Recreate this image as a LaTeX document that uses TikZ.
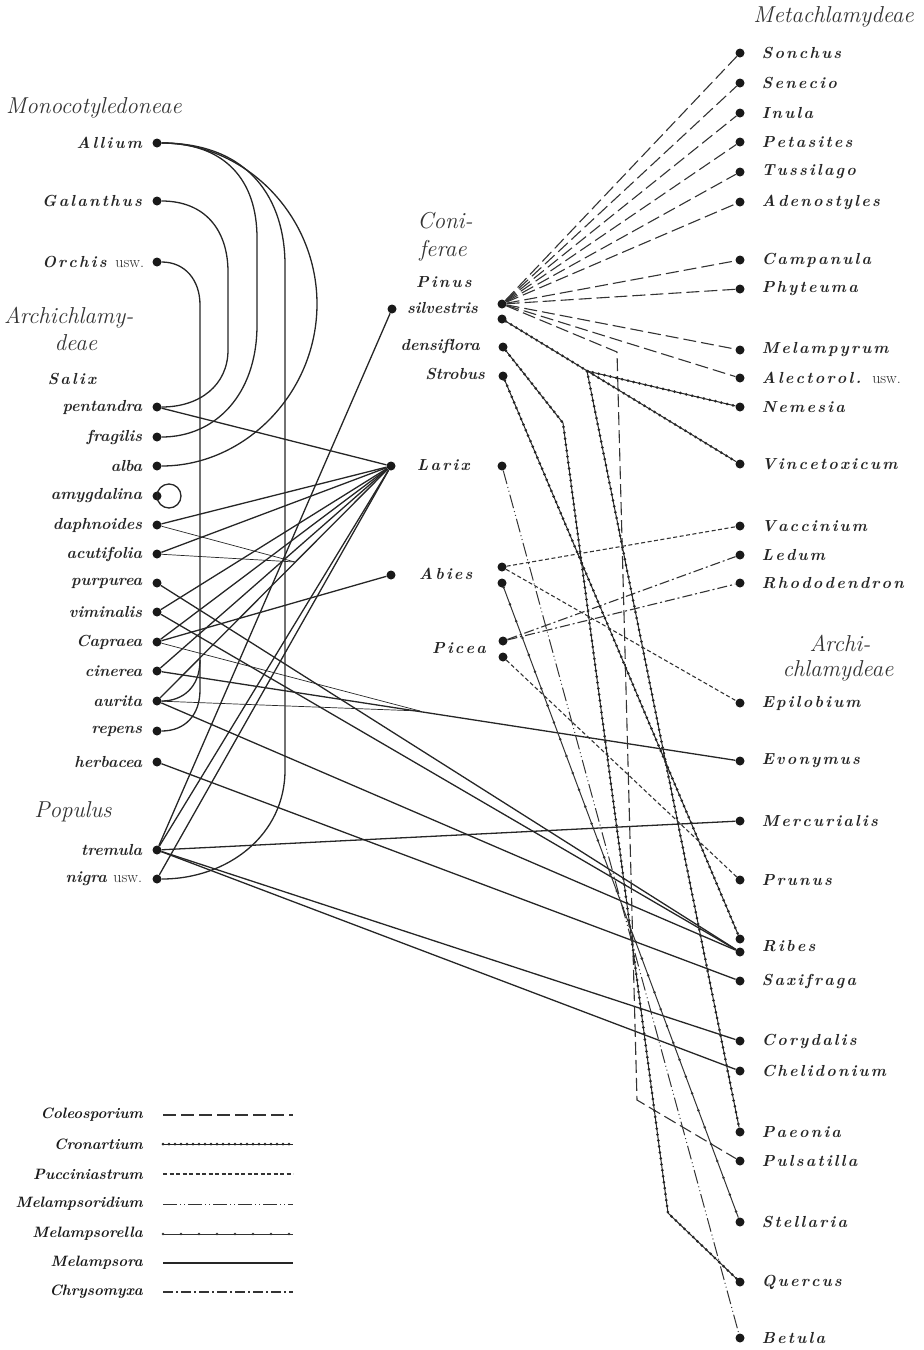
\documentclass[tikz,border=0pt]{standalone}
\usetikzlibrary{positioning}

\makeatletter
\newcommand\gsp[1]{\expandafter\gsp@#1\@nil}
\def\gsp@#1{\ifx#1\@nil\else#1\kern0.14em\relax\expandafter\gsp@\fi}
\makeatother
\newcommand\usw{{\mdseries\upshape usw.}}

\tikzset{
  hostdot/.style={circle,fill=black!90,inner sep=0pt,minimum size=9pt},
  lab/.style={inner sep=0pt,text=black!85,font=\fontsize{16}{18}\selectfont\bfseries\itshape},
  spec/.style={inner sep=0pt,text=black!85,font=\fontsize{16}{18}\selectfont\bfseries\itshape},
  head/.style={inner sep=0pt,text=black!80,font=\fontsize{23}{26}\selectfont\itshape},
  leglab/.style={inner sep=0pt,text=black!90,font=\fontsize{15}{17}\selectfont\bfseries\itshape},
  melampsora/.style={black!85,line width=1.3pt},
  coleosporium/.style={black!80,line width=1.1pt,dash pattern=on 13pt off 5pt},
  cronartium/.style={black!85,line width=1pt,postaction={draw,line width=3pt,line cap=round,dash pattern=on 0pt off 6pt}},
  pucciniastrum/.style={black!80,line width=1.1pt,dash pattern=on 4pt off 2.5pt},
  melampsoridium/.style={black!80,line width=1pt,dash pattern=on 14pt off 3pt on 1pt off 3pt on 1pt off 3pt},
  melampsorella/.style={black!80,line width=1pt,postaction={draw,line width=2.8pt,line cap=round,dash pattern=on 0pt off 18pt}},
  chrysomyxa/.style={black!80,line width=1.1pt,dash pattern=on 10pt off 3pt on 2pt off 3pt},
}

\begin{document}
\begin{tikzpicture}[x=1pt,y=-1pt]
   \useasboundingbox (0,0) rectangle (924,1350);

   \node[head,anchor=west] (monocot) at (6,108) {Monocotyledoneae};
   \foreach \n/\y/\t in {allium/143/Allium,galanthus/201/Galanthus} {
      \node[hostdot] (\n) at (157,\y) {};
      \node[lab,left=8pt of \n] (\n-lab) {\gsp{\t}};
   }
   \node[hostdot] (orchis) at (157,262) {};
   \node[lab,left=8pt of orchis] (orchis-lab) {\gsp{Orchis} \usw};
   \node[head,anchor=west] (archi) at (4,318) {Archichlamy-};
   \node[head] (deae) at (76,343) {deae};
   \node[lab] (salix) at (73,379) {\gsp{Salix}};
   \foreach \n/\y/\t in {pentandra/407/pentandra,fragilis/437/fragilis,alba/466/alba,
      amygdalina/496/amygdalina,daphnoides/525/daphnoides,acutifolia/554/acutifolia,
      purpurea/583/purpurea,viminalis/612/viminalis,capraea/642/Capraea,cinerea/671/cinerea,
      aurita/701/aurita,repens/731/repens,herbacea/762/herbacea,tremula/850/tremula} {
      \node[hostdot] (\n) at (157,\y) {};
      \node[spec,left=10pt of \n] (\n-lab) {\t};
   }
   \node[head] (populus) at (73,812) {Populus};
   \node[hostdot] (nigra) at (157,879) {};
   \node[spec,left=10pt of nigra] (nigra-lab) {nigra \usw};

   \node[head] (coni) at (445,221) {Coni-};
   \node[head] (ferae) at (443,251) {ferae};
   \node[lab] (pinus) at (445,282) {\gsp{Pinus}};
   \foreach \n/\x/\y in {pinusl/392/309,pinusa/502/304,pinusb/502/319,densiflora/503/347,
      strobus/503/376,larixl/391/466,larixr/502/466,abiesl/391/575,abiesa/502/567,
      abiesb/502/583,piceaa/503/641,piceab/503/657} {
      \node[hostdot] (\n) at (\x,\y) {};
   }
   \node[lab,anchor=east] (silvestris-lab) at (478,308) {silvestris};
   \node[lab,anchor=east] (densiflora-lab) at (480,346) {densiflora};
   \node[lab,anchor=east] (strobus-lab) at (485,374) {Strobus};
   \node[lab,anchor=west] (larix-lab) at (417,465) {\gsp{Larix}};
   \node[lab,anchor=west] (abies-lab) at (419,574) {\gsp{Abies}};
   \node[lab,anchor=west] (picea-lab) at (432,648) {\gsp{Picea}};

   \node[head,anchor=east] (metachl) at (914,17) {Metachlamydeae};
   \foreach \n/\y/\t in {sonchus/53/Sonchus,senecio/83/Senecio,inula/113/Inula,
      petasites/142/Petasites,tussilago/172/Tussilago,adenostyles/202/Adenostyles,
      campanula/260/Campanula,phyteuma/289/Phyteuma,melampyrum/350/Melampyrum,
      nemesia/407/Nemesia,vincetoxicum/464/Vincetoxicum,vaccinium/526/Vaccinium,
      ledum/555/Ledum,rhododendron/583/Rhododendron,epilobium/703/Epilobium,
      evonymus/761/Evonymus,mercurialis/821/Mercurialis,prunus/880/Prunus,
      saxifraga/981/Saxifraga,corydalis/1041/Corydalis,chelidonium/1071/Chelidonium,
      paeonia/1132/Paeonia,pulsatilla/1161/Pulsatilla,stellaria/1222/Stellaria,
      quercus/1282/Quercus,betula/1338/Betula} {
      \node[hostdot] (\n) at (740,\y) {};
      \node[lab,right=17pt of \n] (\n-lab) {\gsp{\t}};
   }
   \node[hostdot] (alectorol) at (740,378) {};
   \node[lab,right=17pt of alectorol] (alectorol-lab) {\gsp{Alectorol.} \usw};
   \node[hostdot] (ribesa) at (740,939) {};
   \node[hostdot] (ribesb) at (740,952) {};
   \node[lab,anchor=west] (ribes-lab) at (762,946) {\gsp{Ribes}};
   \node[head] (archi2) at (840,643) {Archi-};
   \node[head] (chlamyd) at (838,671) {chlamydeae};

   \draw[melampsora] (allium) .. controls (245,143) and (317,215) .. (317,304)
      .. controls (317,393) and (245,466) .. (alba);
   \draw[melampsora] (allium) .. controls (250,143) and (285,200) .. (285,265) -- (285,770)
      .. controls (285,835) and (228,879) .. (nigra);
   \draw[melampsora] (allium) .. controls (225,143) and (257,180) .. (257,238) -- (257,325)
      .. controls (257,395) and (215,437) .. (fragilis);
   \draw[melampsora] (galanthus) .. controls (205,201) and (228,230) .. (228,272) -- (228,350)
      .. controls (228,385) and (200,407) .. (pentandra);
   \draw[melampsora] (orchis) .. controls (185,262) and (200,280) .. (200,305) -- (200,690)
      .. controls (200,715) and (185,731) .. (repens);
   \draw[melampsora] (aurita) .. controls (182,701) and (200,688) .. (200,660);
   \draw[melampsora] ([xshift=12pt]amygdalina.center) circle[radius=12pt];

   \coordinate (j1) at (295,562);
   \coordinate (m1) at (420,711);
   \foreach \a/\b in {pentandra/larixl,daphnoides/larixl,acutifolia/larixl,viminalis/larixl,
      capraea/larixl,cinerea/larixl,aurita/larixl,tremula/larixl,nigra/larixl,
      capraea/abiesl,tremula/pinusl,purpurea/ribesb,viminalis/ribesb,aurita/ribesb,
      cinerea/evonymus,tremula/mercurialis,herbacea/saxifraga,tremula/corydalis,
      tremula/chelidonium} {
      \draw[melampsora] (\a) -- (\b);
   }
   \foreach \a/\b in {daphnoides/j1,acutifolia/j1,capraea/m1,aurita/m1} {
      \draw[melampsora,line width=0.7pt] (\a) -- (\b);
   }

   \foreach \b in {sonchus,senecio,inula,petasites,tussilago,adenostyles,campanula,
      phyteuma,melampyrum,alectorol} {
      \draw[coleosporium] (pinusa) -- (\b);
   }
   \coordinate (c1) at (617,352);
   \coordinate (c2) at (637,1100);
   \draw[coleosporium] (pinusa) -- (c1) -- (c2) -- (pulsatilla);

   \coordinate (k1) at (587,371);
   \coordinate (bend1) at (563,423);
   \coordinate (bend2) at (668,1213);
   \draw[cronartium] (pinusb) -- (vincetoxicum);
   \draw[cronartium] (k1) -- (nemesia);
   \draw[cronartium] (k1) -- (paeonia);
   \draw[cronartium] (strobus) -- (ribesa);
   \draw[cronartium] (densiflora) -- (bend1) -- (bend2) -- (quercus);

   \draw[pucciniastrum] (abiesa) -- (vaccinium);
   \draw[pucciniastrum] (abiesa) -- (epilobium);
   \draw[pucciniastrum] (piceab) -- (prunus);
   \draw[chrysomyxa] (piceaa) -- (ledum);
   \draw[chrysomyxa] (piceaa) -- (rhododendron);
   \draw[melampsorella] (abiesb) -- (stellaria);
   \draw[melampsoridium] (larixr) -- (betula);

   \foreach \s/\t/\y in {coleosporium/Coleosporium/1115,cronartium/Cronartium/1144,
      pucciniastrum/Pucciniastrum/1174,melampsoridium/Melampsoridium/1204,
      melampsorella/Melampsorella/1234,melampsora/Melampsora/1263,chrysomyxa/Chrysomyxa/1292} {
      \node[leglab,anchor=east] (leg-\s) at (143,\y) {\t};
      \draw[\s] ([xshift=20pt]leg-\s.east) -- ++(130,0);
   }
\end{tikzpicture}
\end{document}
